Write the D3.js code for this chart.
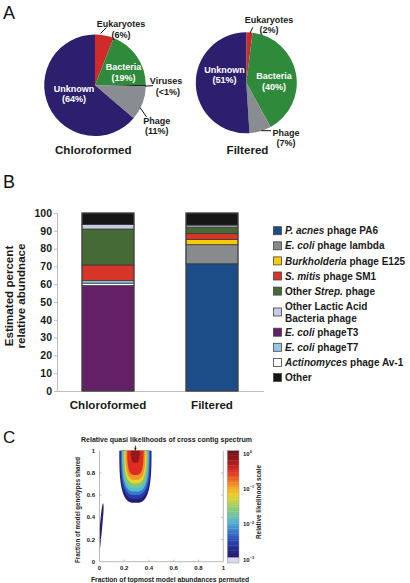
<!DOCTYPE html>
<html><head><meta charset="utf-8">
<script src="https://cdn.jsdelivr.net/npm/d3@7"></script>
<style>
html,body{margin:0;padding:0;background:#fff;}
svg{display:block;font-family:"Liberation Sans",Arial,Helvetica,sans-serif;}
</style></head><body>
<svg id="chart" width="410" height="583"></svg>
<script>
// ---------------- DATA ----------------
// Panel A (pies), clockwise from 12 o'clock
const pieSlices = ["Eukaryotes", "Bacteria", "Viruses", "Phage", "Unknown"];
const chloroformedPie = [6, 19, 0.4, 11, 64];
const filteredPie = [2, 40, 0, 7, 51];
const chloroformedPct = ["(6%)", "(19%)", "(<1%)", "(11%)", "(64%)"];
const filteredPct = ["(2%)", "(40%)", "", "(7%)", "(51%)"];
const pieTitles = ["Chloroformed", "Filtered"];

// Panel B (stacked bars)
const barCategories = ["Chloroformed", "Filtered"];
const phageSeries = ["P. acnes phage PA6", "E. coli phage lambda", "Burkholderia phage E125",
  "S. mitis phage SM1", "Other Strep. phage", "Other Lactic Acid Bacteria phage",
  "E. coli phageT3", "E. coli phageT7", "Actinomyces phage Av-1", "Other"];
const italicParts = ["P. acnes", "E. coli", "Burkholderia", "S. mitis", "Strep.", "",
  "E. coli", "E. coli", "Actinomyces", ""];
const chloroformedValues = [0, 0, 0, 8.8, 20.2, 2.6, 59.2, 1.4, 1.4, 6.4];
const filteredValues = [71.5, 10.7, 3.0, 3.2, 3.7, 1.1, 0, 0, 0, 6.8];
const stackOrder = ["E. coli phageT3", "Actinomyces phage Av-1", "E. coli phageT7",
  "P. acnes phage PA6", "E. coli phage lambda", "Burkholderia phage E125",
  "S. mitis phage SM1", "Other Strep. phage", "Other Lactic Acid Bacteria phage", "Other"];
const barTicks = [0, 10, 20, 30, 40, 50, 60, 70, 80, 90, 100];

// Panel C (likelihood contours)
const contourPeakX = 0.29;
const contourBottomY = [0.53, 0.565, 0.60, 0.632, 0.665, 0.705, 0.737, 0.78, 0.89];
const contourTopHalfWidth = [0.13, 0.123, 0.116, 0.108, 0.100, 0.090, 0.080, 0.066, 0.036];
const sliverX = [0.0, 0.012, 0.025, 0.033, 0.03, 0.02, 0.008, 0.0];
const sliverY = [0.09, 0.2, 0.35, 0.47, 0.525, 0.49, 0.38, 0.25];
const cTicks = [0, 0.2, 0.4, 0.6, 0.8, 1];
const colorbarExponents = [0, -1, -2, -3];

// ---------------- STYLES ----------------
const pieColors = ["#cf2b2b", "#2f8a3c", "#1a1a1a", "#898c90", "#2d1f6d"];
const pieLabelWhite = [false, true, false, false, true];
const seriesColors = {
  "P. acnes phage PA6": "#1c4d89", "E. coli phage lambda": "#888b8e",
  "Burkholderia phage E125": "#f6cb0a", "S. mitis phage SM1": "#d9342a",
  "Other Strep. phage": "#456a36", "Other Lactic Acid Bacteria phage": "#c7cce0",
  "E. coli phageT3": "#642066", "E. coli phageT7": "#92c6e6",
  "Actinomyces phage Av-1": "#ffffff", "Other": "#161618"
};
const contourColors = ["#221d72", "#2a3aa8", "#3479cc", "#56bcd4", "#7cc67e", "#ecd427", "#f0952a", "#dd2c22", "#96191a"];
const colorbarStops = ["#1f1a6c", "#252c94", "#2c4cb8", "#3a80d0", "#56b8d8", "#76c890", "#a8d060",
  "#f0d820", "#f4a428", "#ec5a24", "#d82622", "#a0181a", "#6e1414"];

const svg = d3.select("#chart");
const FONT_B = "bold";

// ---------------- PANEL A ----------------
svg.append("text").attr("x", 3).attr("y", 18.5).attr("font-size", 18).attr("fill", "#111").text("A");

function drawPie(cx, cy, r, values) {
  const g = svg.append("g").attr("transform", `translate(${cx},${cy})`);
  const arcs = d3.pie().sort(null).value(d => d)(values);
  const arc = d3.arc().innerRadius(0).outerRadius(r);
  g.selectAll("path").data(arcs).join("path")
    .attr("d", arc).attr("fill", (d, i) => pieColors[i]);
  return { arcs, arc, g };
}
function twoLine(x, y, l1, l2, white, x2) {
  const t = svg.append("g").attr("font-size", 9).attr("font-weight", FONT_B)
    .attr("fill", white ? "#fff" : "#1a1a1a").attr("text-anchor", "middle");
  t.append("text").attr("x", x).attr("y", y).text(l1);
  if (l2) t.append("text").attr("x", x2 !== undefined ? x2 : x).attr("y", y + 10.5).text(l2);
}
function leader(x1, y1, x2, y2) {
  svg.append("line").attr("x1", x1).attr("y1", y1).attr("x2", x2).attr("y2", y2)
    .attr("stroke", "#111").attr("stroke-width", 1);
}

const p1 = { cx: 95, cy: 85.2, r: 50.8 };
drawPie(p1.cx, p1.cy, p1.r, chloroformedPie);
const p2 = { cx: 246.3, cy: 82.8, r: 50.5 };
drawPie(p2.cx, p2.cy, p2.r, filteredPie);

// labels chloroformed
twoLine(121, 27, pieSlices[0], chloroformedPct[0], false);
twoLine(123.5, 70, pieSlices[1], chloroformedPct[1], true);
twoLine(166, 84, pieSlices[2], chloroformedPct[2], false, 168);
twoLine(156.7, 123.5, pieSlices[3], chloroformedPct[3], false);
twoLine(74, 91.5, pieSlices[4], chloroformedPct[4], true);
leader(100.5, 33.5, 106.5, 27.5);
leader(145, 86.2, 153, 85.6);
leader(140, 107.5, 146.5, 117);
// labels filtered
twoLine(269, 22.7, pieSlices[0], filteredPct[0], false);
twoLine(274, 79, pieSlices[1], filteredPct[1], true);
twoLine(286, 135.7, pieSlices[3], filteredPct[3], false);
twoLine(224.5, 72.5, pieSlices[4], filteredPct[4], true);
leader(249.8, 33.5, 252.8, 27.3);
leader(261.5, 130.7, 271, 130.7);

svg.append("text").attr("x", 93.3).attr("y", 154.2).attr("text-anchor", "middle")
  .attr("font-size", 11.6).attr("font-weight", FONT_B).attr("fill", "#1a1a1a").text(pieTitles[0]);
svg.append("text").attr("x", 247.5).attr("y", 154.2).attr("text-anchor", "middle")
  .attr("font-size", 11.6).attr("font-weight", FONT_B).attr("fill", "#1a1a1a").text(pieTitles[1]);

// ---------------- PANEL B ----------------
svg.append("text").attr("x", 3).attr("y", 187.5).attr("font-size", 18).attr("fill", "#111").text("B");

const yB = d3.scaleLinear().domain([0, 100]).range([391, 213]);
const xB = d3.scaleBand().domain(barCategories).range([56, 264]).paddingInner(0.5).paddingOuter(0.25);

const rows = barCategories.map((c, ci) => {
  const o = { category: c };
  phageSeries.forEach((s, si) => { o[s] = (ci === 0 ? chloroformedValues : filteredValues)[si]; });
  return o;
});
const stacked = d3.stack().keys(stackOrder)(rows);

const axisColor = "#bdbdbd";
const gy = svg.append("g").attr("transform", "translate(57,0)")
  .call(d3.axisLeft(yB).tickValues(barTicks).tickSize(3).tickPadding(2));
gy.select(".domain").attr("stroke", axisColor);
gy.selectAll(".tick line").attr("stroke", axisColor);
gy.selectAll(".tick text").attr("font-size", 10.5).attr("font-weight", FONT_B)
  .attr("fill", "#1a1a1a").attr("font-family", "Liberation Sans, Arial, sans-serif");

const gx = svg.append("g").attr("transform", "translate(0,391)")
  .call(d3.axisBottom(xB).tickSize(0).tickPadding(8));
gx.select(".domain").attr("stroke", axisColor).attr("d", "M57,0.5H264");
gx.selectAll(".tick text").attr("font-size", 11.6).attr("font-weight", FONT_B)
  .attr("fill", "#1a1a1a").attr("font-family", "Liberation Sans, Arial, sans-serif")
  .attr("dy", "0.9em");

const barG = svg.append("g");
stacked.forEach(layer => {
  barG.append("g").attr("fill", seriesColors[layer.key])
    .selectAll("rect").data(layer.filter(d => d[1] - d[0] > 0)).join("rect")
    .attr("x", d => xB(d.data.category))
    .attr("width", xB.bandwidth())
    .attr("y", d => yB(d[1]))
    .attr("height", d => yB(d[0]) - yB(d[1]))
    .attr("stroke", "#3a3a3a").attr("stroke-width", 0.8);
});
barG.selectAll(".outline").data(barCategories).join("rect")
  .attr("x", d => xB(d)).attr("width", xB.bandwidth())
  .attr("y", yB(100)).attr("height", yB(0) - yB(100))
  .attr("fill", "none").attr("stroke", "#444").attr("stroke-width", 1);

// y label
const yl = svg.append("g").attr("font-size", 11.6).attr("font-weight", FONT_B).attr("fill", "#1a1a1a")
  .attr("text-anchor", "middle");
yl.append("text").attr("transform", "translate(12.5,296) rotate(-90)").text("Estimated percent");
yl.append("text").attr("transform", "translate(24.5,296) rotate(-90)").text("relative abundnace");

// legend
const leg = svg.append("g").attr("font-size", 10).attr("font-weight", FONT_B).attr("fill", "#1a1a1a");
let ly = 230.7;
phageSeries.forEach((s, i) => {
  let lines = [s];
  if (s.length > 26) {
    const words = s.split(" ");
    lines = [words.slice(0, 3).join(" "), words.slice(3).join(" ")];
  }
  const swY = lines.length > 1 ? ly + 5.8 : ly;
  leg.append("rect").attr("x", 273.5).attr("y", swY - 4).attr("width", 8).attr("height", 8)
    .attr("fill", seriesColors[s]).attr("stroke", "#444").attr("stroke-width", 0.8);
  lines.forEach((line, li) => {
    const t = leg.append("text").attr("x", 285).attr("y", ly + li * 11.7 + 3.6);
    const it = italicParts[i];
    const k = it ? line.indexOf(it) : -1;
    if (k >= 0) {
      if (k > 0) t.append("tspan").text(line.slice(0, k));
      t.append("tspan").attr("font-style", "italic").text(it);
      t.append("tspan").text(line.slice(k + it.length));
    } else t.text(line);
  });
  ly += (lines.length - 1) * 11.7 + (lines.length > 1 ? 14.3 : 15.1);
});

// ---------------- PANEL C ----------------
svg.append("text").attr("x", 3).attr("y", 442.5).attr("font-size", 17).attr("fill", "#111").text("C");

const xC = d3.scaleLinear().domain([0, 1]).range([99.5, 223.3]);
const yC = d3.scaleLinear().domain([0, 1]).range([561.7, 450.7]);

svg.append("clipPath").attr("id", "clipC").append("rect")
  .attr("x", xC(0)).attr("y", yC(1)).attr("width", xC(1) - xC(0)).attr("height", yC(0) - yC(1));
const cg = svg.append("g").attr("clip-path", "url(#clipC)");

const sEx = 3;
const line = d3.line().x(d => xC(d[0])).y(d => yC(d[1]));
contourBottomY.forEach((yb, i) => {
  const rx = contourTopHalfWidth[i], ry = 1 - yb;
  const pts = [[contourPeakX - rx, 1.1]];
  for (let k = 0; k <= 60; k++) {
    const t = Math.PI * (1 - k / 60);
    const c = Math.cos(t), s = Math.sin(t);
    pts.push([contourPeakX + rx * Math.sign(c) * Math.pow(Math.abs(c), 2 / sEx),
      1 - ry * Math.pow(Math.abs(s), 2 / sEx)]);
  }
  pts.push([contourPeakX + rx, 1.1]);
  cg.append("path").attr("d", line(pts) + "Z").attr("fill", contourColors[i]);
});
cg.append("path")
  .attr("d", d3.line().x(d => xC(d[0])).y(d => yC(d[1])).curve(d3.curveCardinalClosed)(sliverX.map((x, i) => [x, sliverY[i]])))
  .attr("fill", contourColors[0]);

// axes frame
const frame = svg.append("g").attr("stroke", "#a8a8a8").attr("stroke-width", 0.8).attr("fill", "none");
frame.append("path").attr("d", `M${xC(0)},${yC(1)}V${yC(0)}H${xC(1)}V${yC(1)}`);
cTicks.slice(1, -1).forEach(v => {
  frame.append("line").attr("x1", xC(0)).attr("x2", xC(0) + 2).attr("y1", yC(v)).attr("y2", yC(v));
  frame.append("line").attr("x1", xC(1)).attr("x2", xC(1) - 2).attr("y1", yC(v)).attr("y2", yC(v));
  frame.append("line").attr("x1", xC(v)).attr("x2", xC(v)).attr("y1", yC(0)).attr("y2", yC(0) - 2);
});
const fmt = d => d === 0 ? "0" : d === 1 ? "1" : d3.format(".1f")(d);
const tc = svg.append("g").attr("font-size", 6).attr("font-weight", FONT_B).attr("fill", "#1a1a1a");
tc.selectAll(".yt").data(cTicks).join("text").attr("class", "yt")
  .attr("x", 95).attr("y", d => yC(d) + 2).attr("text-anchor", "end").text(fmt);
tc.selectAll(".xt").data(cTicks).join("text").attr("class", "xt")
  .attr("x", d => xC(d)).attr("y", 570).attr("text-anchor", "middle").text(fmt);

// peak marker
svg.append("line").attr("x1", xC(contourPeakX)).attr("x2", xC(contourPeakX)).attr("y1", 445.5).attr("y2", 450.5)
  .attr("stroke", "#222").attr("stroke-width", 0.8);
svg.append("path").attr("d", `M${xC(contourPeakX) - 1.3},447.8L${xC(contourPeakX) + 1.3},447.8L${xC(contourPeakX)},450.5Z`).attr("fill", "#222");

// titles
const ct = svg.append("g").attr("font-size", 6.7).attr("font-weight", FONT_B).attr("fill", "#1a1a1a").attr("text-anchor", "middle");
ct.append("text").attr("x", 166.5).attr("y", 442.3).attr("textLength", 171).attr("lengthAdjust", "spacingAndGlyphs")
  .text("Relative quasi likelihoods of cross contig spectrum");
ct.append("text").attr("x", 170).attr("y", 581.5).attr("textLength", 158).attr("lengthAdjust", "spacingAndGlyphs")
  .text("Fraction of topmost model abundances permuted");
ct.append("text").attr("transform", "translate(79.5,510) rotate(-90)").attr("textLength", 106).attr("lengthAdjust", "spacingAndGlyphs")
  .text("Fraction of model genotypes shared");
ct.append("text").attr("transform", "translate(261,502) rotate(-90)").attr("textLength", 74).attr("lengthAdjust", "spacingAndGlyphs")
  .text("Relative likelihood scale");

// colorbar
const cbTop = 450.7, cbBot = 563, cbX = 227.3, cbW = 11.7;
const nStripes = 44;
const cInterp = d3.interpolateRgbBasis(colorbarStops);
const lavH = 5.5;
const cbScale = d3.scaleLinear().domain([0, nStripes]).range([cbBot - lavH, cbTop]);
const cb = svg.append("g");
cb.selectAll("rect").data(d3.range(nStripes)).join("rect")
  .attr("x", cbX).attr("width", cbW)
  .attr("y", d => cbScale(d + 1)).attr("height", d => cbScale(d) - cbScale(d + 1) + 0.3)
  .attr("fill", d => cInterp(d / (nStripes - 1)));
cb.append("rect").attr("x", cbX).attr("width", cbW).attr("y", cbBot - lavH).attr("height", lavH).attr("fill", "#d8d8f0");
cb.append("rect").attr("x", cbX).attr("width", cbW).attr("y", cbTop).attr("height", cbBot - cbTop)
  .attr("fill", "none").attr("stroke", "#999").attr("stroke-width", 0.5);
const cbLabelY = d3.scaleLinear().domain([0, -3]).range([454, 560]);
colorbarExponents.forEach(e => {
  const t = svg.append("text").attr("x", 243).attr("y", cbLabelY(e) + 1.5)
    .attr("font-size", 6).attr("font-weight", FONT_B).attr("fill", "#1a1a1a");
  t.append("tspan").text("10");
  t.append("tspan").attr("font-size", 3.8).attr("dy", -2.6).text(String(e).replace("-", "\u2212"));
});
</script>
</body></html>
